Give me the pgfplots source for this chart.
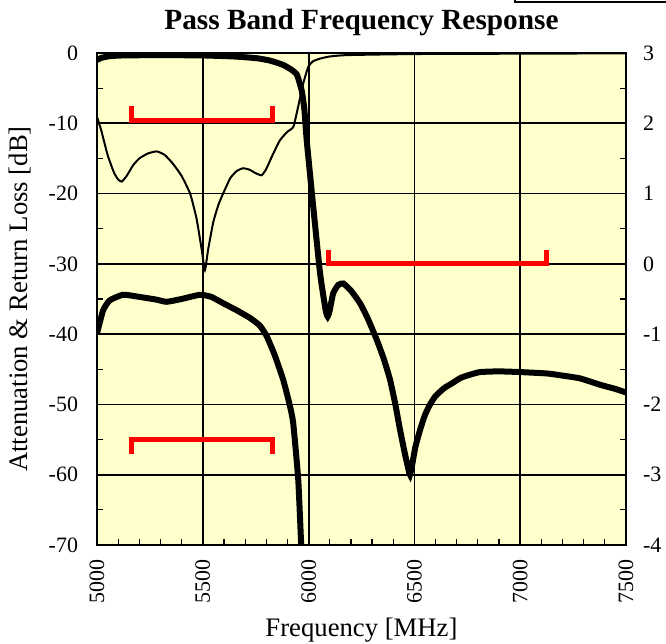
\documentclass[border=0pt]{standalone}
\usepackage{fontspec}
\setmainfont{Liberation Serif}
\usepackage{pgfplots}
\pgfplotsset{compat=1.18}
\definecolor{bgyellow}{RGB}{255,255,204}
\definecolor{specred}{RGB}{255,0,0}

\pgfplotsset{
  filterax/.style={
    scale only axis,
    width=264.5bp, height=246bp,
    xmin=5000, xmax=7500,
    tick align=inside,
    major tick length=0pt,
    minor tick length=3bp,
    axis line style={black, line width=1bp},
    minor tick style={black, line width=0.6bp},
    /pgf/number format/assume math mode=true,
    /pgf/number format/1000 sep={},
    ticklabel style={font=\fontsize{11}{13}\selectfont},
  },
}

\begin{document}
\begin{tikzpicture}
\begin{axis}[
  filterax,
  name=ax,
  ymin=-70, ymax=0,
  xtick={5000,5500,...,7500},
  ytick={-70,-60,...,0},
  minor x tick num=4,
  minor y tick num=1,
  xtick pos=bottom, ytick pos=left,
  grid=major,
  major grid style={black, line width=0.9bp},
  axis background/.style={fill=bgyellow},
  xticklabel style={rotate=90, anchor=east, xshift=-4bp},
  yticklabel style={anchor=east, xshift=-6bp},
  xlabel={Frequency [MHz]},
  ylabel={Attenuation \& Return Loss [dB]},
  label style={font=\fontsize{13.4}{15}\selectfont},
  ylabel style={yshift=2bp},
  title={Pass Band Frequency Response},
  title style={font=\bfseries\fontsize{14.7}{17}\selectfont, yshift=-1bp},
]
% return loss
\addplot[black, line width=1bp, smooth, tension=0.3] coordinates {
(5000,-9.1) (5020,-11) (5050,-14.5) (5080,-17) (5100,-18) (5117,-18.3)
(5140,-17.5) (5170,-16) (5200,-15.0) (5240,-14.3) (5282,-14.0) (5320,-14.5)
(5360,-15.8) (5400,-17.5) (5440,-20) (5470,-23.5) (5495,-28) (5510,-30.9)
(5525,-28) (5550,-24) (5575,-21.5) (5596,-20) (5630,-17.8) (5660,-16.8)
(5690,-16.4) (5720,-16.6) (5750,-17.1) (5778,-17.4) (5800,-16.5) (5830,-14.5)
(5865,-12.4) (5900,-11.2) (5928,-10.5) (5951,-7.6) (5975,-4.3) (5998,-2.0)
(6020,-1.2) (6054,-0.8) (6100,-0.5) (6181,-0.3) (6500,-0.15) (7000,-0.1)
(7500,-0.05)};
% attenuation
\addplot[black, line width=3bp, smooth, tension=0.3] coordinates {
(5000,-1.0) (5020,-0.7) (5060,-0.45) (5120,-0.35) (5300,-0.3) (5500,-0.35)
(5650,-0.5) (5756,-0.75) (5820,-1.1) (5880,-1.7) (5920,-2.4) (5945,-3.1)
(5967,-5.3) (5980,-8.0) (5991,-12.4) (6022,-21.9) (6054,-31.3) (6080,-36.5)
(6090,-37.5) (6100,-36.6) (6116,-34.2) (6140,-33.0) (6164,-32.8) (6200,-33.8)
(6243,-35.6) (6280,-37.8) (6322,-40.8) (6355,-43.5) (6385,-46.5) (6410,-50)
(6432,-53.6) (6455,-57) (6470,-59) (6479,-60) (6490,-58.5) (6505,-56)
(6527,-53.6) (6550,-51.5) (6574,-50) (6600,-48.8) (6640,-47.7) (6683,-46.9)
(6720,-46.2) (6760,-45.8) (6810,-45.4) (6900,-45.3) (7000,-45.4) (7127,-45.6)
(7200,-45.9) (7283,-46.3) (7377,-47.2) (7450,-47.8) (7500,-48.3)};
% spec masks
\addplot[specred, line width=2.5bp] coordinates {
(5165,-7.5) (5165,-9.54) (5830,-9.54) (5830,-7.5)};
\addplot[specred, line width=2.5bp] coordinates {
(6093,-28) (6093,-30) (7122,-30) (7122,-28)};
\addplot[specred, line width=2.5bp] coordinates {
(5165,-57) (5165,-55) (5830,-55) (5830,-57)};
\end{axis}

\begin{axis}[
  filterax,
  at={(ax.south west)}, anchor=south west,
  ymin=-4, ymax=3,
  axis x line=none, axis y line*=right,
  ytick={-4,-3,...,3},
  minor y tick num=1,
  yticklabel style={anchor=west, xshift=5bp},
]
% insertion loss, expanded scale
\addplot[black, line width=3bp, smooth, tension=0.3] coordinates {
(5000,-0.99) (5029,-0.66) (5060,-0.52) (5123,-0.44) (5200,-0.47) (5282,-0.51)
(5329,-0.54) (5400,-0.50) (5487,-0.44) (5540,-0.47) (5596,-0.56) (5660,-0.66)
(5723,-0.77) (5770,-0.88) (5802,-1.03) (5840,-1.3) (5880,-1.65) (5910,-2.0)
(5927,-2.26) (5951,-3.07) (5965,-4.0) (5970,-4.2)};
\end{axis}

\draw[line width=1bp] ([xshift=-55.5bp,yshift=25.3bp]ax.north east)
  rectangle ([xshift=40bp,yshift=50bp]ax.north east);
\pgfresetboundingbox
\path[use as bounding box] ([xshift=-48.5bp,yshift=-49.5bp]ax.south west)
  rectangle ([xshift=20bp,yshift=26.5bp]ax.north east);
\end{tikzpicture}
\end{document}
